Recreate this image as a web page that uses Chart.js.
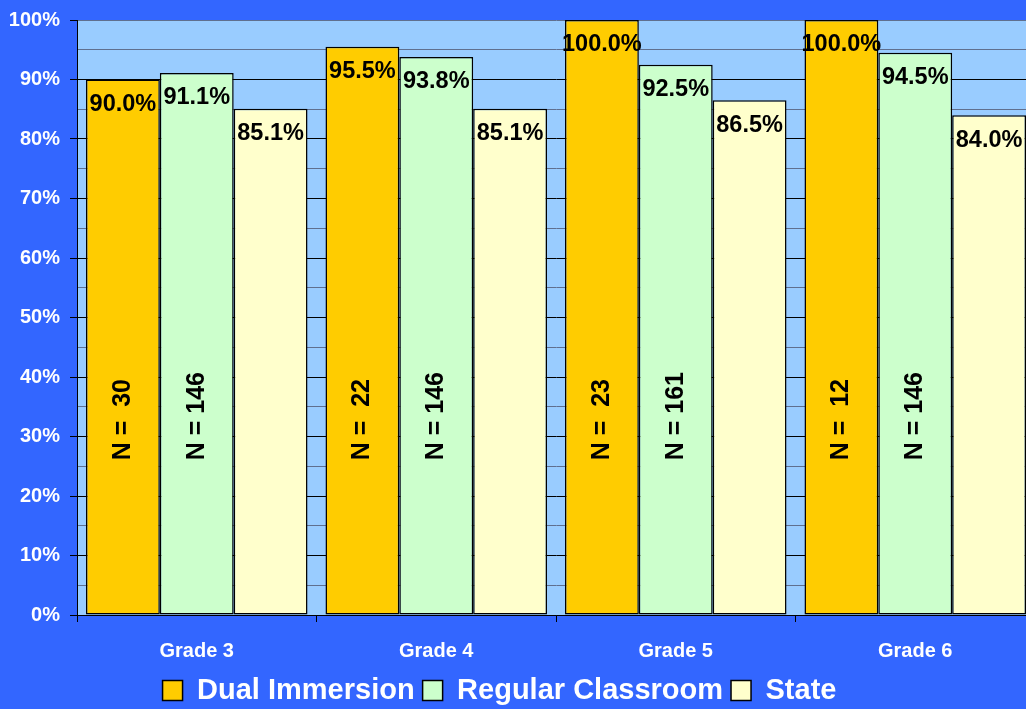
<!DOCTYPE html>
<html>
<head>
<meta charset="utf-8">
<script src="https://cdn.jsdelivr.net/npm/chart.js@4/dist/chart.umd.min.js"></script>
<style>
  html, body { margin: 0; padding: 0; background: #3366FF; overflow: hidden; }
  #wrap { width: 1040px; height: 715px; }
</style>
</head>
<body>
<div id="wrap"><canvas id="c" width="1040" height="715"></canvas></div>
<script>
const categories = ["Grade 3", "Grade 4", "Grade 5", "Grade 6"];
const seriesNames = ["Dual Immersion", "Regular Classroom", "State"];
const dualImmersion = [90.0, 95.5, 100.0, 100.0];
const regularClassroom = [91.1, 93.8, 92.5, 94.5];
const stateValues = [85.1, 85.1, 86.5, 84.0];
const nDual = [30, 22, 23, 12];
const nRegular = [146, 146, 161, 146];
const yTickValues = [0, 10, 20, 30, 40, 50, 60, 70, 80, 90, 100];

const FONT = "'Liberation Sans', Arial, sans-serif";
const PLOT_BOTTOM = 615;
const LEGEND_SHIFT = -18;

const bgPlugin = {
  id: 'bg',
  beforeDraw(chart) {
    const { ctx, chartArea: a } = chart;
    ctx.save();
    ctx.fillStyle = '#3366FF';
    ctx.fillRect(0, 0, chart.width, chart.height);
    ctx.fillStyle = '#99CCFF';
    ctx.fillRect(a.left, a.top, a.right - a.left, a.bottom - a.top);
    ctx.restore();
  }
};

const legendShiftPlugin = {
  id: 'legendShift',
  afterLayout(chart) {
    const lg = chart.legend;
    if (lg) { lg.left += LEGEND_SHIFT; lg.right += LEGEND_SHIFT; }
  }
};

const labelPlugin = {
  id: 'labels',
  afterDatasetsDraw(chart) {
    const { ctx } = chart;
    ctx.save();
    ctx.fillStyle = '#000';
    ctx.textAlign = 'center';
    ctx.textBaseline = 'middle';
    ctx.font = 'bold 23.5px ' + FONT;
    chart.data.datasets.forEach((ds, di) => {
      const meta = chart.getDatasetMeta(di);
      meta.data.forEach((bar, i) => {
        ctx.fillText(ds.data[i].toFixed(1) + '%', bar.x, bar.y + 25);
      });
    });
    const nSets = [nDual, nRegular];
    const yBase = chart.scales.y.getPixelForValue(26);
    ctx.font = 'bold 25px ' + FONT;
    nSets.forEach((arr, di) => {
      const meta = chart.getDatasetMeta(di);
      meta.data.forEach((bar, i) => {
        ctx.save();
        ctx.translate(bar.x, yBase);
        ctx.rotate(-Math.PI / 2);
        ctx.textAlign = 'left';
        ctx.textBaseline = 'middle';
        ctx.fillText('N = ' + String(arr[i]).padStart(3, ' '), 0, 0);
        ctx.restore();
      });
    });
    ctx.restore();
  }
};

const colors = ['#FFCC00', '#CCFFCC', '#FFFFCC'];
const values = [dualImmersion, regularClassroom, stateValues];

new Chart(document.getElementById('c'), {
  type: 'bar',
  data: {
    labels: categories,
    datasets: seriesNames.map((name, k) => ({
      label: name,
      data: values[k],
      backgroundColor: colors[k],
      borderColor: '#000000',
      borderWidth: 1.5,
      borderSkipped: false,
      categoryPercentage: 0.925,
      barPercentage: 1.0
    }))
  },
  options: {
    responsive: false,
    animation: false,
    layout: { padding: { top: 20, right: 5, left: 0, bottom: 0 } },
    plugins: {
      tooltip: { enabled: false },
      title: { display: false },
      legend: {
        position: 'bottom',
        labels: {
          color: '#FFFFFF',
          font: { family: FONT, size: 29, weight: 'bold' },
          boxWidth: 20,
          boxHeight: 20,
          padding: 8
        }
      }
    },
    scales: {
      x: {
        grid: { drawOnChartArea: false, drawTicks: true, tickLength: 7, color: '#000', lineWidth: 1 },
        border: { color: '#000', width: 1 },
        ticks: { color: '#FFFFFF', font: { family: FONT, size: 20, weight: 'bold' }, padding: 17 },
        afterFit(scale) {
          const lh = scale.chart.legend ? scale.chart.legend.height : 46;
          scale.height = scale.chart.height - PLOT_BOTTOM - lh;
          scale.paddingLeft = 0; scale.paddingRight = 0;
        }
      },
      y: {
        min: 0,
        max: 100,
        afterBuildTicks(scale) {
          const t = [];
          yTickValues.forEach(v => { t.push({ value: v }); if (v < 100) t.push({ value: v + 5 }); });
          scale.ticks = t;
        },
        ticks: {
          autoSkip: false,
          color: '#FFFFFF',
          font: { family: FONT, size: 20, weight: 'bold' },
          padding: 10,
          callback: (v) => (v % 10 === 0 ? v + '%' : '')
        },
        grid: {
          drawTicks: true,
          tickLength: 7,
          color: (c) => (c.tick && c.tick.value % 10 === 0 && c.tick.value !== 100 ? '#000000' : '#5f6f8f'),
          tickColor: (c) => (c.tick && c.tick.value % 10 === 0 ? '#000000' : 'rgba(0,0,0,0)'),
          lineWidth: 1
        },
        border: { color: '#000', width: 1 },
        afterFit(scale) {
          scale.width = 77;
          scale.paddingTop = 0; scale.paddingBottom = 0;
        }
      }
    }
  },
  plugins: [bgPlugin, legendShiftPlugin, labelPlugin]
});
</script>
</body>
</html>
